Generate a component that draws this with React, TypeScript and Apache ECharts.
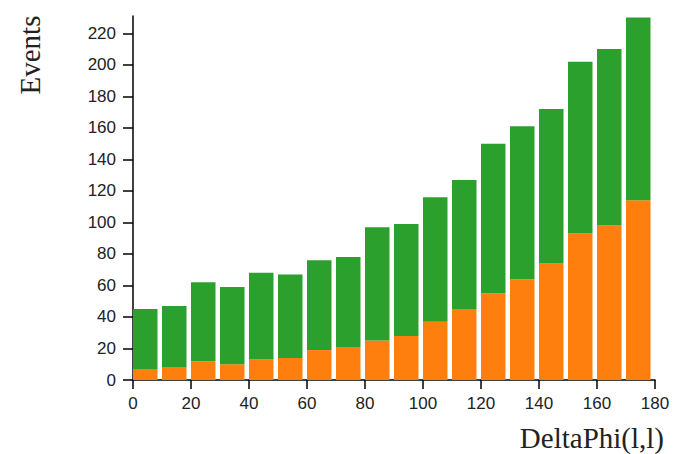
import React, { useEffect, useRef } from "react";
import * as echarts from "echarts";

const binStarts = [0, 10, 20, 30, 40, 50, 60, 70, 80, 90, 100, 110, 120, 130, 140, 150, 160, 170];
const binWidth = 10;
const orangeValues = [7, 8, 12, 10, 13, 14, 19, 21, 25, 28, 37, 45, 55, 64, 74, 93, 98, 114];
const greenValues = [38, 39, 50, 49, 55, 53, 57, 57, 72, 71, 79, 82, 95, 97, 98, 109, 112, 116];
const yTicks = [0, 20, 40, 60, 80, 100, 120, 140, 160, 180, 200, 220];
const xTicks = [0, 20, 40, 60, 80, 100, 120, 140, 160, 180];

const ORANGE = "#ff7f0e";
const GREEN = "#2ca02c";

function makeRender(color: string) {
  return (params: any, api: any) => {
    const x0 = api.value(0);
    const lo = api.value(1);
    const hi = api.value(2);
    const p0 = api.coord([x0, lo]);
    const p1 = api.coord([x0 + binWidth, hi]);
    return {
      type: "rect",
      shape: {
        x: p0[0],
        y: p1[1],
        width: p1[0] - p0[0] - 4.5,
        height: p0[1] - p1[1],
      },
      style: { fill: color },
    };
  };
}

export default function App() {
  const ref = useRef<HTMLDivElement>(null);
  useEffect(() => {
    if (!ref.current) return;
    const chart = echarts.init(ref.current, null, { renderer: "svg" });
    const orangeData = binStarts.map((b, i) => [b, 0, orangeValues[i]]);
    const greenData = binStarts.map((b, i) => [b, orangeValues[i], orangeValues[i] + greenValues[i]]);
    chart.setOption({
      animation: false,
      grid: { left: 133, right: 23, top: 16, bottom: 74, containLabel: false },
      xAxis: {
        type: "value",
        min: 0,
        max: 180,
        interval: 20,
        splitLine: { show: false },
        axisLine: { show: true, lineStyle: { color: "#000", width: 1.5 } },
        axisTick: { show: true, length: 9, lineStyle: { color: "#000", width: 1.5 } },
        axisLabel: {
          margin: 15,
          color: "#222",
          fontFamily: "Liberation Sans, Arial, sans-serif",
          fontSize: 17,
          formatter: (v: number) => (xTicks.includes(v) ? String(v) : ""),
        },
      },
      yAxis: {
        type: "value",
        min: 0,
        max: 231,
        interval: 20,
        splitLine: { show: false },
        axisLine: { show: true, lineStyle: { color: "#000", width: 1.5 } },
        axisTick: { show: true, length: 10, lineStyle: { color: "#000", width: 1.5 } },
        axisLabel: {
          margin: 17,
          color: "#222",
          fontFamily: "Liberation Sans, Arial, sans-serif",
          fontSize: 17,
          showMaxLabel: false,
          formatter: (v: number) => (yTicks.includes(v) ? String(v) : ""),
        },
      },
      series: [
        {
          type: "custom",
          name: "orange",
          renderItem: makeRender(ORANGE),
          encode: { x: 0, y: [1, 2] },
          data: orangeData,
        },
        {
          type: "custom",
          name: "green",
          renderItem: makeRender(GREEN),
          encode: { x: 0, y: [1, 2] },
          data: greenData,
        },
      ],
      graphic: [
        {
          type: "text",
          x: 30,
          y: 55,
          rotation: Math.PI / 2,
          style: {
            text: "Events",
            fill: "#222",
            font: '29px "Liberation Serif", "Times New Roman", serif',
            align: "center",
            verticalAlign: "middle",
          },
        },
        {
          type: "text",
          x: 664,
          y: 438,
          style: {
            text: "DeltaPhi(l,l)",
            fill: "#222",
            font: '29px "Liberation Serif", "Times New Roman", serif',
            align: "right",
            verticalAlign: "middle",
          },
        },
      ],
    });
    return () => chart.dispose();
  }, []);
  return (
    <div
      ref={ref}
      style={{ position: "fixed", left: 0, top: 0, width: 678, height: 454, background: "#fff" }}
    />
  );
}
